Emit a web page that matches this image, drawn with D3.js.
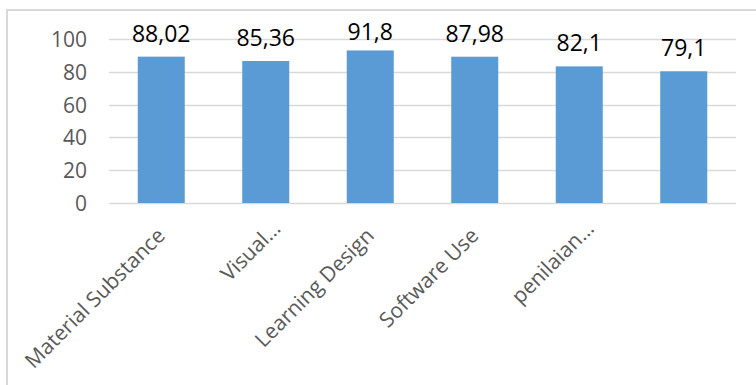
<!DOCTYPE html>
<html>
<head>
<meta charset="utf-8">
<script src="https://cdn.jsdelivr.net/npm/d3@7"></script>
<style>
  html, body { margin: 0; padding: 0; background: #fff; }
  svg { display: block; }
</style>
</head>
<body>
<svg id="chart" width="756" height="385"></svg>
<script>
const categories = ["Material Substance", "Visual…", "Learning Design", "Software Use", "penilaian…", ""];
const values = [88.02, 85.36, 91.8, 87.98, 82.1, 79.1];
const valueLabels = ["88,02", "85,36", "91,8", "87,98", "82,1", "79,1"];
const yTicks = [0, 20, 40, 60, 80, 100];

const svg = d3.select("#chart");
const W = 756, H = 385;
const plot = { left: 109, right: 736, top: 39, bottom: 203 };

// chart area border (only top and left visible)
svg.append("line").attr("x1", 7).attr("x2", W).attr("y1", 10).attr("y2", 10)
  .attr("stroke", "#d9d9d9").attr("stroke-width", 2);
svg.append("line").attr("x1", 7).attr("x2", 7).attr("y1", 9).attr("y2", H)
  .attr("stroke", "#d9d9d9").attr("stroke-width", 2);

const x = d3.scaleBand().domain(d3.range(categories.length))
  .range([plot.left, plot.right]).paddingInner(0.55).paddingOuter(0.275);
const y = d3.scaleLinear().domain([0, 100]).range([plot.bottom, plot.top]);

// gridlines
svg.append("g").selectAll("line").data(yTicks).join("line")
  .attr("x1", plot.left).attr("x2", plot.right)
  .attr("y1", d => Math.round(y(d)) + 0.5).attr("y2", d => Math.round(y(d)) + 0.5)
  .attr("stroke", "#d9d9d9").attr("stroke-width", 1.3);

// y axis labels
const yAxis = d3.axisLeft(y).tickValues(yTicks).tickSize(0).tickPadding(0);
const gy = svg.append("g").attr("transform", `translate(${87},0)`).call(yAxis);
gy.select(".domain").remove();
gy.selectAll("text").attr("fill", "#595959")
  .style("font-family", "'Open Sans', sans-serif").style("font-size", "21px")
  .attr("dy", "0.36em");

// bars
svg.append("g").selectAll("rect").data(values).join("rect")
  .attr("x", (d, i) => x(i)).attr("width", x.bandwidth())
  .attr("y", d => y(d) - 2).attr("height", d => y(0) - y(d) + 2)
  .attr("fill", "#5b9bd5");

// value labels
svg.append("g").selectAll("text").data(values).join("text")
  .attr("x", (d, i) => x(i) + x.bandwidth() / 2)
  .attr("y", d => Math.max(y(d) - 17, 40))
  .attr("text-anchor", "middle").attr("fill", "#000")
  .style("font-family", "'Open Sans', sans-serif").style("font-size", "23px")
  .text((d, i) => valueLabels[i]);

// category labels
svg.append("g").selectAll("text").data(categories).join("text")
  .attr("transform", (d, i) => {
    const cx = x(i) + x.bandwidth() / 2 + (d.endsWith("…") ? 16 : 5);
    const cy = plot.bottom + (d.endsWith("…") ? 27 : 34);
    return `translate(${cx},${cy}) rotate(-45)`;
  })
  .attr("text-anchor", "end").attr("fill", "#595959")
  .style("font-family", "'Open Sans', sans-serif").style("font-size", "21px")
  .text(d => d);
</script>
</body>
</html>
